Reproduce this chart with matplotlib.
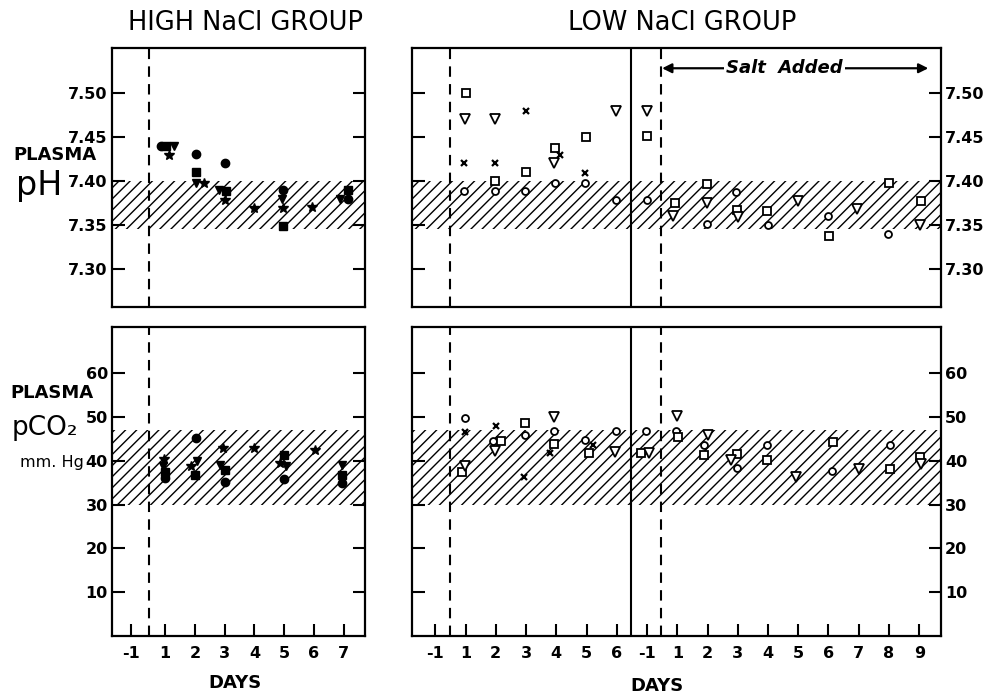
import matplotlib
matplotlib.use('Agg')
import matplotlib.pyplot as plt

# x values are positions on the day axis as drawn (the low NaCl panel runs
# a second "-1, 1..9" period after the solid line, starting at position 7)

# ---- HIGH NaCl group, plasma pH
hi_ph_circle_x = [0.85, 2.03, 3.02, 4.96, 7.13]
hi_ph_circle = [7.44, 7.431, 7.42, 7.39, 7.38]
hi_ph_square_x = [1.03, 2.03, 3.04, 4.96, 7.13]
hi_ph_square = [7.44, 7.41, 7.389, 7.349, 7.39]
hi_ph_tri_x = [1.29, 2.03, 2.82, 4.92, 6.88]
hi_ph_tri = [7.44, 7.398, 7.39, 7.38, 7.38]
hi_ph_star_x = [1.12, 2.31, 3.02, 3.97, 4.96, 5.94]
hi_ph_star = [7.429, 7.398, 7.379, 7.369, 7.369, 7.37]

# ---- HIGH NaCl group, plasma pCO2
hi_co2_circle_x = [1.01, 2.03, 3.0, 4.99, 6.95]
hi_co2_circle = [36.1, 45.2, 35.1, 35.9, 34.9]
hi_co2_square_x = [1.01, 2.0, 3.0, 4.99, 6.95]
hi_co2_square = [37.4, 36.8, 37.8, 41.2, 36.8]
hi_co2_tri_x = [0.92, 2.08, 2.83, 5.07, 6.93]
hi_co2_tri = [38.7, 40.0, 39.1, 38.7, 39.1]
hi_co2_star_x = [0.98, 1.88, 2.96, 4.0, 4.85, 6.02]
hi_co2_star = [40.3, 38.7, 42.9, 42.9, 39.5, 42.5]

# ---- LOW NaCl group, plasma pH
lo_ph_square_x = [1.02, 1.99, 3.0, 3.96, 4.99, 7.01, 7.92, 8.99, 9.99, 10.96, 13.01, 15.0, 16.05]
lo_ph_square = [7.50, 7.40, 7.41, 7.438, 7.45, 7.451, 7.375, 7.397, 7.367, 7.366, 7.338, 7.398, 7.377]
lo_ph_tri_x = [0.99, 1.98, 3.91, 5.99, 7.01, 7.85, 8.97, 10.02, 12.0, 13.95, 16.03]
lo_ph_tri = [7.47, 7.47, 7.421, 7.479, 7.479, 7.36, 7.375, 7.359, 7.377, 7.368, 7.35]
lo_ph_circle_x = [0.96, 1.99, 2.98, 3.96, 4.96, 5.99, 6.99, 8.97, 9.94, 11.0, 12.98, 14.98]
lo_ph_circle = [7.389, 7.389, 7.389, 7.398, 7.398, 7.379, 7.379, 7.351, 7.387, 7.35, 7.36, 7.34]
lo_ph_x_x = [0.96, 1.96, 3.0, 4.13, 4.96]
lo_ph_x = [7.42, 7.42, 7.48, 7.43, 7.409]

# ---- LOW NaCl group, plasma pCO2
lo_co2_circle_x = [0.98, 1.92, 2.97, 3.93, 4.96, 5.96, 6.98, 7.95, 8.9, 9.97, 10.96, 13.11, 15.02]
lo_co2_circle = [49.8, 44.5, 45.9, 46.8, 44.7, 46.8, 46.8, 46.8, 43.6, 38.3, 43.6, 37.6, 43.6]
lo_co2_square_x = [0.87, 2.18, 2.97, 3.93, 5.07, 6.79, 8.04, 8.88, 9.97, 10.96, 13.14, 15.02, 16.01]
lo_co2_square = [37.4, 44.5, 48.5, 43.8, 41.7, 41.7, 45.3, 41.4, 41.5, 40.2, 44.2, 38.2, 40.8]
lo_co2_tri_x = [0.98, 1.98, 3.93, 5.95, 7.06, 7.98, 9.0, 9.77, 11.93, 14.02, 16.07]
lo_co2_tri = [38.9, 42.3, 50.0, 41.9, 41.7, 50.2, 45.9, 40.2, 36.2, 38.2, 39.2]
lo_co2_x_x = [0.98, 2.01, 2.94, 3.8, 5.22]
lo_co2_x = [46.5, 48.0, 36.2, 41.7, 43.6]

# normal ranges (hatched bands)
ph_normal = (7.345, 7.40)
co2_normal = (30, 47)

ph_ticks = [7.30, 7.35, 7.40, 7.45, 7.50]
ph_labels = ['7.30', '7.35', '7.40', '7.45', '7.50']
co2_ticks = [10, 20, 30, 40, 50, 60]
co2_labels = ['10', '20', '30', '40', '50', '60']

hi_day_ticks = [-0.15, 1, 2, 3, 4, 5, 6, 7]
hi_day_labels = ['-1', '1', '2', '3', '4', '5', '6', '7']
lo_day_ticks = [0, 1, 2, 3, 4, 5, 6, 7, 8, 9, 10, 11, 12, 13, 14, 15, 16]
lo_day_labels = ['-1', '1', '2', '3', '4', '5', '6',
                 '-1', '1', '2', '3', '4', '5', '6', '7', '8', '9']

plt.rcParams['hatch.linewidth'] = 1.0
plt.rcParams['font.family'] = 'DejaVu Sans'

W, H = 984, 695
fig = plt.figure(figsize=(W / 100, H / 100), dpi=100)


def px_axes(x0, y0, x1, y1):
    return fig.add_axes([x0 / W, 1 - y1 / H, (x1 - x0) / W, (y1 - y0) / H])


def fx(x):
    return x / W


def fy(y):
    return 1 - y / H


def style_axes(ax, side):
    for s in ax.spines.values():
        s.set_linewidth(1.6)
    ax.tick_params(axis='y', direction='in', length=9, width=1.5, left=True, right=True,
                   labelleft=(side == 'left'), labelright=(side == 'right'),
                   labelsize=11.5, pad=3)
    for lab in ax.get_yticklabels():
        lab.set_fontweight('bold')


ax_hp = px_axes(112, 48, 365, 307)
ax_hc = px_axes(112, 327, 365, 636)
ax_lp = px_axes(412, 48, 941, 307)
ax_lc = px_axes(412, 327, 941, 636)

filled = dict(ls='none', color='black', zorder=3)
opened = dict(ls='none', mfc='white', mec='black', mew=1.3, zorder=3)

# high NaCl pH
ax_hp.plot(hi_ph_circle_x, hi_ph_circle, marker='o', ms=6, **filled)
ax_hp.plot(hi_ph_square_x, hi_ph_square, marker='s', ms=5.5, **filled)
ax_hp.plot(hi_ph_tri_x, hi_ph_tri, marker='v', ms=6, **filled)
ax_hp.plot(hi_ph_star_x, hi_ph_star, marker='*', ms=7, **filled)

# high NaCl pCO2
ax_hc.plot(hi_co2_circle_x, hi_co2_circle, marker='o', ms=6, **filled)
ax_hc.plot(hi_co2_square_x, hi_co2_square, marker='s', ms=5.5, **filled)
ax_hc.plot(hi_co2_tri_x, hi_co2_tri, marker='v', ms=6, **filled)
ax_hc.plot(hi_co2_star_x, hi_co2_star, marker='*', ms=7, **filled)

# low NaCl pH
ax_lp.plot(lo_ph_circle_x, lo_ph_circle, marker='o', ms=5, **opened)
ax_lp.plot(lo_ph_square_x, lo_ph_square, marker='s', ms=5.5, **opened)
ax_lp.plot(lo_ph_tri_x, lo_ph_tri, marker='v', ms=6.5, **opened)
ax_lp.plot(lo_ph_x_x, lo_ph_x, marker='x', ms=5, ls='none', color='black', mew=1.6, zorder=3)

# low NaCl pCO2
ax_lc.plot(lo_co2_circle_x, lo_co2_circle, marker='o', ms=5, **opened)
ax_lc.plot(lo_co2_square_x, lo_co2_square, marker='s', ms=5.5, **opened)
ax_lc.plot(lo_co2_tri_x, lo_co2_tri, marker='v', ms=6.5, **opened)
ax_lc.plot(lo_co2_x_x, lo_co2_x, marker='x', ms=5, ls='none', color='black', mew=1.6, zorder=3)

for ax in (ax_hp, ax_lp):
    ax.axhspan(*ph_normal, facecolor='none', edgecolor='black', hatch='///', lw=0, zorder=1)
    ax.set_ylim(7.257, 7.551)
    ax.set_yticks(ph_ticks)
    ax.set_yticklabels(ph_labels)
    ax.set_xticks([])
for ax in (ax_hc, ax_lc):
    ax.axhspan(*co2_normal, facecolor='none', edgecolor='black', hatch='///', lw=0, zorder=1)
    ax.set_ylim(0, 70.5)
    ax.set_yticks(co2_ticks)
    ax.set_yticklabels(co2_labels)

for ax in (ax_hp, ax_hc):
    ax.set_xlim(-0.78, 7.71)
    ax.axvline(0.45, color='black', lw=1.5, ls=(0, (5, 3.5)), zorder=2)
for ax in (ax_lp, ax_lc):
    ax.set_xlim(-0.77, 16.72)
    ax.axvline(0.47, color='black', lw=1.5, ls=(0, (5, 3.5)), zorder=2)
    ax.axvline(6.47, color='black', lw=1.5, zorder=2)
    ax.axvline(7.47, color='black', lw=1.5, ls=(0, (5, 3.5)), zorder=2)

ax_hc.set_xticks(hi_day_ticks)
ax_hc.set_xticklabels(hi_day_labels)
ax_lc.set_xticks(lo_day_ticks)
ax_lc.set_xticklabels(lo_day_labels)
for ax in (ax_hc, ax_lc):
    ax.tick_params(axis='x', direction='in', length=9, width=1.5, labelsize=11.5, pad=7)
    for lab in ax.get_xticklabels():
        lab.set_fontweight('bold')

style_axes(ax_hp, 'left')
style_axes(ax_hc, 'left')
style_axes(ax_lp, 'right')
style_axes(ax_lc, 'right')

# salt added arrow
ax_lp.annotate('', xy=(7.5, 7.528), xytext=(16.3, 7.528),
               arrowprops=dict(arrowstyle='<|-|>', color='black', lw=1.6,
                               mutation_scale=14, shrinkA=0, shrinkB=0))
ax_lp.text(11.55, 7.528, 'Salt  Added', ha='center', va='center', fontsize=13,
           style='italic', fontweight='bold',
           bbox=dict(facecolor='white', edgecolor='none', pad=1.5), zorder=4)

# titles and axis labels
fig.text(fx(245), fy(23), 'HIGH NaCl GROUP', ha='center', va='center', fontsize=18.5)
fig.text(fx(682), fy(23), 'LOW NaCl GROUP', ha='center', va='center', fontsize=18.5)
fig.text(fx(13), fy(155), 'PLASMA', ha='left', va='center', fontsize=13, fontweight='bold')
fig.text(fx(16), fy(186), 'pH', ha='left', va='center', fontsize=24)
fig.text(fx(10), fy(393), 'PLASMA', ha='left', va='center', fontsize=13, fontweight='bold')
fig.text(fx(12), fy(428), 'pCO₂', ha='left', va='center', fontsize=19)
fig.text(fx(20), fy(462), 'mm. Hg', ha='left', va='center', fontsize=11.5)
fig.text(fx(235), fy(683), 'DAYS', ha='center', va='center', fontsize=13, fontweight='bold')
fig.text(fx(657), fy(686), 'DAYS', ha='center', va='center', fontsize=13, fontweight='bold')

fig.savefig('out.png', dpi=100)
